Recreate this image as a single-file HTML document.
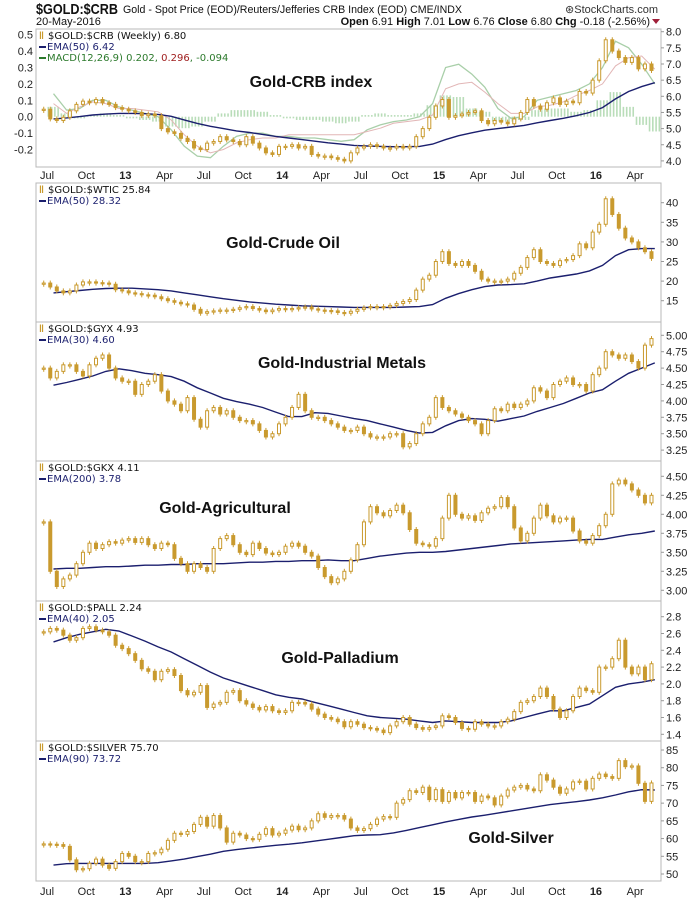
<!DOCTYPE html>
<html><head><meta charset="utf-8"><style>
body{margin:0;background:#fff;}
svg{display:block;font-family:"Liberation Sans",sans-serif;}
.lg{font-family:"DejaVu Sans","Liberation Sans",sans-serif;font-size:10px;}
.ax{font-size:11px;fill:#222;}
.ttl{font-size:16px;font-weight:bold;fill:#111;}
</style></head><body>
<svg id="chart" width="700" height="900" viewBox="0 0 700 900" xmlns="http://www.w3.org/2000/svg">
<rect x="0" y="0" width="700" height="900" fill="#fff"/>
<text x="36" y="14" font-size="15" font-weight="bold" fill="#111" textLength="82" lengthAdjust="spacingAndGlyphs">$GOLD:$CRB</text>
<text x="123" y="13" font-size="11" fill="#111" textLength="339" lengthAdjust="spacingAndGlyphs">Gold - Spot Price (EOD)/Reuters/Jefferies CRB Index (EOD) CME/INDX</text>
<text x="36" y="25" font-size="11" fill="#111">20-May-2016</text>
<text x="658" y="13" font-size="11" fill="#333" text-anchor="end">⊛StockCharts.com</text>
<text x="650" y="25" font-size="11" fill="#111" text-anchor="end"><tspan font-weight="bold">Open</tspan> 6.91 <tspan font-weight="bold">High</tspan> 7.01 <tspan font-weight="bold">Low</tspan> 6.76 <tspan font-weight="bold">Close</tspan> 6.80 <tspan font-weight="bold">Chg</tspan> -0.18 (-2.56%)</text>
<path d="M652,19 L660,19 L656,24 Z" fill="#a0203a"/>
<g id="plots"></g>
</svg>
<script>
// ---- data (semi-monthly closes from Jul 2012 to May 2016; monthly EMA values) ----
const monthLabels = ["Jul","Oct","13","Apr","Jul","Oct","14","Apr","Jul","Oct","15","Apr","Jul","Oct","16","Apr"];
const crbClose = [5.6,5.3,5.25,5.35,5.55,5.75,5.85,5.8,5.9,5.8,5.75,5.65,5.6,5.55,5.5,5.4,5.45,5.4,5.0,4.9,4.85,4.7,4.6,4.4,4.35,4.55,4.6,4.75,4.65,4.6,4.5,4.75,4.55,4.4,4.25,4.2,4.45,4.45,4.5,4.4,4.45,4.2,4.15,4.15,4.1,4.05,4.0,4.25,4.4,4.45,4.5,4.45,4.4,4.4,4.45,4.4,4.45,4.75,5.0,5.35,5.7,5.9,5.35,5.4,5.45,5.5,5.55,5.25,5.15,5.25,5.2,5.15,5.3,5.5,5.9,5.7,5.6,5.8,5.95,5.75,5.85,5.8,6.15,6.1,6.5,7.1,7.75,7.4,7.2,7.05,7.2,6.85,7.0,6.8];
const crbEma = [5.3,5.33,5.37,5.42,5.45,5.47,5.47,5.46,5.44,5.38,5.27,5.16,5.07,5.0,4.93,4.88,4.82,4.76,4.71,4.66,4.61,4.56,4.52,4.48,4.46,4.45,4.44,4.44,4.45,4.52,4.66,4.78,4.87,4.95,5.0,5.05,5.1,5.18,5.25,5.32,5.4,5.5,5.65,5.92,6.15,6.3,6.42];
const crbMacd = [0.14,0.04,0.05,0.1,0.1,0.06,0.04,0.02,0.0,-0.08,-0.18,-0.24,-0.25,-0.18,-0.12,-0.1,-0.1,-0.12,-0.12,-0.13,-0.13,-0.14,-0.15,-0.14,-0.08,-0.05,-0.03,-0.02,0.0,0.08,0.3,0.32,0.26,0.18,0.05,-0.01,0.0,0.1,0.12,0.14,0.16,0.2,0.3,0.46,0.42,0.32,0.2];
const crbHist = [0.06,0.02,-0.01,0.01,0.02,0.01,-0.01,-0.02,-0.03,-0.06,-0.07,-0.06,-0.03,0.02,0.04,0.04,0.03,0.01,-0.01,-0.02,-0.02,-0.03,-0.04,-0.03,0.01,0.02,0.01,0.01,0.02,0.07,0.13,0.12,0.05,0.03,-0.03,-0.03,-0.02,0.04,0.05,0.05,0.03,0.04,0.1,0.15,0.06,-0.05,-0.09];
const crbTicks = ["4.0","4.5","5.0","5.5","6.0","6.5","7.0","7.5","8.0"];
const macdTicks = ["-0.2","-0.1","0.0","0.1","0.2","0.3","0.4","0.5"];

const wticClose = [19.5,18.5,17.5,17.0,17.5,19.0,19.8,19.8,19.6,19.5,19.2,17.8,17.5,17.0,16.8,16.5,16.4,16.0,15.5,15.0,14.6,14.2,13.9,12.8,11.8,12.2,12.4,12.6,12.6,12.8,13.2,13.5,13.0,12.6,12.2,12.6,13.0,12.8,13.0,13.2,13.4,12.9,12.6,12.5,12.4,12.0,11.8,12.3,12.8,13.2,13.5,13.5,13.4,13.8,14.3,14.8,15.3,17.7,20.5,21.5,25.0,27.5,24.5,24.0,25.0,24.0,22.5,20.5,20.0,20.0,20.0,20.5,22.0,23.5,26.0,28.0,25.0,24.5,24.0,25.2,25.5,26.5,29.5,28.5,32.5,34.5,41.0,37.0,33.5,31.0,30.0,28.5,27.5,25.8];
const wticEma = [17.0,17.3,17.6,17.9,18.1,18.2,18.2,18.0,17.8,17.5,17.0,16.5,16.0,15.5,15.1,14.7,14.4,14.1,13.9,13.7,13.6,13.5,13.4,13.3,13.3,13.3,13.3,13.4,13.5,14.0,15.6,16.8,17.8,18.6,19.0,19.1,19.3,20.0,20.8,21.3,21.8,22.6,24.0,26.5,28.0,28.3,28.3];
const wticTicks = ["15","20","25","30","35","40"];

const gyxClose = [4.5,4.35,4.45,4.55,4.55,4.45,4.38,4.55,4.65,4.7,4.5,4.35,4.3,4.3,4.1,4.25,4.3,4.4,4.15,4.0,3.95,3.85,4.05,3.72,3.6,3.85,3.9,3.8,3.85,3.75,3.7,3.7,3.65,3.55,3.45,3.5,3.65,3.75,3.9,4.1,3.85,3.75,3.75,3.7,3.65,3.6,3.55,3.55,3.6,3.5,3.45,3.45,3.45,3.5,3.5,3.3,3.35,3.5,3.65,3.75,4.05,3.9,3.85,3.8,3.75,3.7,3.65,3.5,3.7,3.88,3.85,3.95,3.9,3.95,4.0,4.2,4.15,4.05,4.25,4.3,4.35,4.25,4.25,4.15,4.4,4.5,4.75,4.7,4.65,4.7,4.6,4.5,4.85,4.95];
const gyxEma = [4.24,4.28,4.33,4.38,4.45,4.49,4.46,4.42,4.4,4.37,4.3,4.2,4.12,4.04,3.99,3.95,3.9,3.83,3.76,3.76,3.82,3.81,3.77,3.73,3.7,3.65,3.6,3.55,3.51,3.52,3.62,3.7,3.73,3.72,3.69,3.73,3.77,3.84,3.9,3.96,4.04,4.12,4.17,4.3,4.42,4.5,4.58];
const gyxTicks = ["3.25","3.50","3.75","4.00","4.25","4.50","4.75","5.00"];

const gkxClose = [3.9,3.25,3.05,3.15,3.2,3.35,3.5,3.62,3.55,3.6,3.64,3.62,3.66,3.68,3.63,3.68,3.6,3.55,3.62,3.6,3.42,3.35,3.25,3.35,3.3,3.25,3.55,3.68,3.72,3.6,3.5,3.47,3.62,3.55,3.49,3.47,3.5,3.58,3.62,3.58,3.5,3.45,3.3,3.18,3.1,3.15,3.25,3.4,3.6,3.9,4.1,4.02,3.98,4.05,4.12,4.02,3.8,3.62,3.6,3.58,3.68,3.95,4.25,4.0,3.95,3.98,3.92,4.02,4.08,4.1,4.22,4.1,3.82,3.65,3.75,3.95,4.12,3.98,3.9,3.95,3.95,3.78,3.65,3.62,3.72,3.85,4.0,4.4,4.45,4.4,4.32,4.25,4.15,4.25];
const gkxEma = [3.28,3.29,3.29,3.3,3.31,3.31,3.32,3.33,3.33,3.34,3.34,3.35,3.35,3.35,3.36,3.37,3.37,3.38,3.38,3.39,3.39,3.4,3.39,3.39,3.42,3.45,3.47,3.49,3.5,3.5,3.51,3.53,3.55,3.57,3.59,3.61,3.62,3.63,3.64,3.65,3.66,3.67,3.67,3.7,3.73,3.75,3.78];
const gkxTicks = ["3.00","3.25","3.50","3.75","4.00","4.25","4.50"];

const pallClose = [2.62,2.66,2.64,2.58,2.52,2.55,2.66,2.68,2.64,2.62,2.58,2.46,2.42,2.36,2.28,2.18,2.15,2.05,2.15,2.17,2.1,1.92,1.87,1.9,1.98,1.72,1.76,1.78,1.9,1.92,1.8,1.76,1.72,1.69,1.73,1.68,1.66,1.68,1.78,1.78,1.76,1.7,1.64,1.6,1.58,1.55,1.49,1.55,1.52,1.48,1.47,1.45,1.42,1.5,1.55,1.6,1.52,1.48,1.46,1.48,1.5,1.62,1.6,1.54,1.47,1.46,1.55,1.52,1.5,1.5,1.55,1.58,1.67,1.78,1.8,1.85,1.95,1.85,1.7,1.6,1.68,1.85,1.95,1.92,1.9,2.2,2.2,2.3,2.52,2.2,2.12,2.2,2.05,2.24];
const pallEma = [2.5,2.55,2.59,2.62,2.65,2.63,2.57,2.51,2.44,2.38,2.3,2.22,2.14,2.07,2.02,1.97,1.92,1.87,1.84,1.82,1.78,1.74,1.7,1.66,1.62,1.6,1.59,1.58,1.56,1.54,1.56,1.55,1.54,1.54,1.54,1.56,1.6,1.64,1.68,1.68,1.72,1.76,1.86,1.96,2.0,2.02,2.05];
const pallTicks = ["1.4","1.6","1.8","2.0","2.2","2.4","2.6","2.8"];

const silverClose = [58.5,58.4,58.3,57.8,54,51.2,51.5,53,54.2,52.5,51.6,53.5,55.8,55,53.5,53.5,55.8,56,57,59.5,61.5,61.2,62,64,66,63.5,66.5,63,59,61.5,61,60,59.8,61.2,62.8,61,61.5,62.4,63.5,62.5,63,65,67,66,66.5,66.5,65.5,63,62.3,62.8,64,65.5,66.2,66,70,71,73.5,73,74.5,71,73.8,70.5,73,71.5,73,73,70.5,72,71.5,69.5,72,73.7,74.5,75,74,73.5,78,76.5,74.5,72.8,74,76,76.2,74,77,78.2,77.5,77,82,80.3,80.5,75.6,70.5,75.7];
const silverEma = [52.5,52.9,53.0,53.0,53.0,53.0,53.0,53.0,53.2,53.7,54.2,54.9,55.6,56.4,56.9,57.3,57.7,58.1,58.4,58.8,59.3,59.8,60.3,60.8,61.0,61.1,61.6,62.3,63.1,63.9,64.7,65.4,66.1,66.6,67.2,67.8,68.4,69.0,69.6,70.0,70.4,70.9,71.5,72.3,73.2,73.8,73.7];
const silverTicks = ["50","55","60","65","70","75","80","85"];

// ---- layout ----
const NS = "http://www.w3.org/2000/svg";
const plots = document.getElementById("plots");
const L = 36, R = 661;
const GOLD = "#c99a2e", NAVY = "#1b1f6e";
function xC(i){ return 47 + 13.07 * (i / 2 - 0.25); }
function xE(m){ return 47 + 13.07 * (m + 0.5); }
function xLabel(k){ return 47 + 13.07 * 3 * k; }
function mk(tag, attrs, parent){
  const e = document.createElementNS(NS, tag);
  for (const k in attrs) e.setAttribute(k, attrs[k]);
  (parent || plots).appendChild(e);
  return e;
}

const panels = [
  {key:"crb", top:29, bot:167, v0:8, y0:31.7, k:32.3, close:crbClose, ema:crbEma, ticks:crbTicks,
   leg:"$GOLD:$CRB (Weekly) 6.80", emaLeg:"EMA(50) 6.42", title:"Gold-CRB index", tx:311, ty:87},
  {key:"wtic", top:183, bot:322, v0:40, y0:202.7, k:3.92, close:wticClose, ema:wticEma, ticks:wticTicks,
   leg:"$GOLD:$WTIC 25.84", emaLeg:"EMA(50) 28.32", title:"Gold-Crude Oil", tx:283, ty:248},
  {key:"gyx", top:322, bot:461, v0:5, y0:335.3, k:65.6, close:gyxClose, ema:gyxEma, ticks:gyxTicks,
   leg:"$GOLD:$GYX 4.93", emaLeg:"EMA(30) 4.60", title:"Gold-Industrial Metals", tx:342, ty:368},
  {key:"gkx", top:461, bot:601, v0:4.5, y0:476.3, k:76, close:gkxClose, ema:gkxEma, ticks:gkxTicks,
   leg:"$GOLD:$GKX 4.11", emaLeg:"EMA(200) 3.78", title:"Gold-Agricultural", tx:225, ty:513},
  {key:"pall", top:601, bot:741, v0:2.8, y0:616.7, k:84, close:pallClose, ema:pallEma, ticks:pallTicks,
   leg:"$GOLD:$PALL 2.24", emaLeg:"EMA(40) 2.05", title:"Gold-Palladium", tx:340, ty:663},
  {key:"silver", top:741, bot:881, v0:85, y0:750, k:3.543, close:silverClose, ema:silverEma, ticks:silverTicks,
   leg:"$GOLD:$SILVER 75.70", emaLeg:"EMA(90) 73.72", title:"Gold-Silver", tx:511, ty:843}
];

function yMacd(v){ return 116.7 - v * 164; }

panels.forEach(function(p){
  const y = function(v){ return p.y0 + (p.v0 - v) * p.k; };
  const g = mk("g", {});
  
  
  const frame = mk("rect", {x:L, y:p.top, width:R-L, height:p.bot-p.top, fill:"#fff", stroke:"#b8b8b8", "stroke-width":1}, g);
  
  

  if (p.key === "crb") {
    crbHist.forEach(function(h, m){
      const ya = yMacd(0), yb = yMacd(h);
      for (let s = 0; s < 4; s++) {
        const b = mk("rect", {x:xE(m) - 6 + s * 3.27, y:Math.min(ya,yb), width:1.6, height:Math.max(1,Math.abs(yb-ya)), fill:"#b9ddb9"}, g);
        
        
      }
    });
    const macdPts = crbMacd.map(function(v,m){ return xE(m).toFixed(1)+","+yMacd(v).toFixed(1); }).join(" ");
    const sigPts = crbMacd.map(function(v,m){ return xE(m).toFixed(1)+","+yMacd(v - crbHist[m]).toFixed(1); }).join(" ");
    const ml = mk("polyline", {points:macdPts, fill:"none", stroke:"#a9cfa9", "stroke-width":1.3}, g);
    
    
    const sl = mk("polyline", {points:sigPts, fill:"none", stroke:"#e2b6b6", "stroke-width":1}, g);
    
    
    macdTicks.forEach(function(t){
      const yy = yMacd(parseFloat(t));
      const tl = mk("text", {x:L-3, y:yy+4, "text-anchor":"end", class:"ax"}, g);
      tl.textContent = t;
      
      
    });
  }

  const emaPts = p.ema.map(function(v,m){ return xE(m).toFixed(1)+","+y(v).toFixed(1); }).join(" ");
  const el = mk("polyline", {points:emaPts, fill:"none", stroke:NAVY, "stroke-width":1.4}, g);
  
  

  p.close.forEach(function(c, i){
    const o = i === 0 ? c : p.close[i-1];
    const x = xC(i);
    const yo = y(o), yc = y(c);
    const top = Math.min(yo,yc), h = Math.max(1.2, Math.abs(yo-yc));
    const w = mk("line", {x1:x, x2:x, y1:top-2.5, y2:top+h+2.5, stroke:GOLD, "stroke-width":1}, g);
    
    
    const up = c >= o;
    const r = mk("rect", {x:x-1.5, y:top, width:3, height:h, fill: up ? "#fff" : GOLD, stroke:GOLD, "stroke-width":1}, g);
    
    
  });

  p.ticks.forEach(function(t){
    const yy = y(parseFloat(t));
    const tk = mk("line", {x1:R, x2:R+3, y1:yy, y2:yy, stroke:"#999"}, g);
    
    
    const tl = mk("text", {x:R+5, y:yy+4, class:"ax"}, g);
    tl.textContent = t;
    
    
  });

  const ic = mk("text", {x:L+3, y:p.top+10, fill:GOLD, "font-size":10, "font-weight":"bold"}, g);
  ic.textContent = "\u01C1";
  
  
  const lt = mk("text", {x:L+12, y:p.top+10, class:"lg", fill:"#111"}, g);
  lt.textContent = p.leg;
  
  
  const ln = mk("line", {x1:L+3, x2:L+10, y1:p.top+18, y2:p.top+18, stroke:NAVY, "stroke-width":2}, g);
  
  
  const et = mk("text", {x:L+11, y:p.top+21, class:"lg", fill:NAVY}, g);
  et.textContent = p.emaLeg;
  
  
  if (p.key === "crb") {
    const ln2 = mk("line", {x1:L+3, x2:L+10, y1:p.top+29, y2:p.top+29, stroke:"#2c7a2c", "stroke-width":2}, g);
    
    
    const mt = mk("text", {x:L+11, y:p.top+32, class:"lg", fill:"#2c7a2c"}, g);
    
    
    mt.innerHTML = 'MACD(12,26,9) 0.202, <tspan fill="#a02020">0.296</tspan>, -0.094';
  }

  const tt = mk("text", {x:p.tx, y:p.ty, "text-anchor":"middle", class:"ttl"}, g);
  tt.textContent = p.title;
  
  
});

[179, 895].forEach(function(yy){
  monthLabels.forEach(function(lab, k){
    const bold = lab.length === 2;
    const t = mk("text", {x:xLabel(k), y:yy, "text-anchor":"middle", class:"ax", "font-weight": bold ? "bold" : "normal"});
    t.textContent = lab;
    
    
  });
});
</script>
</body></html>
